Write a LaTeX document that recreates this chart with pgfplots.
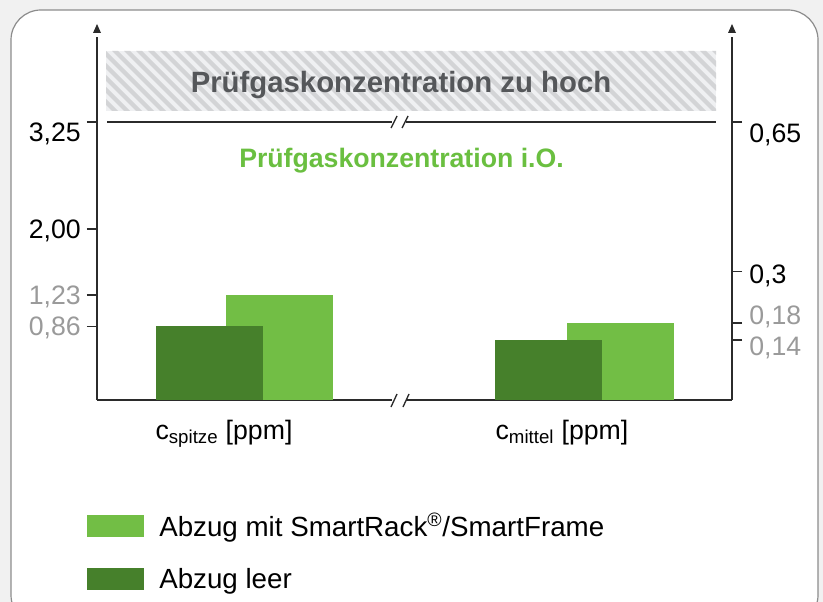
\documentclass[border=0pt]{standalone}
\usepackage{fontspec}
\setmainfont{Liberation Sans}
\usepackage{pgfplots}
\pgfplotsset{compat=1.18}
\definecolor{dkgreen}{HTML}{46802B}
\definecolor{ltgreen}{HTML}{72BE45}
\definecolor{txtgreen}{HTML}{6ABF40}
\definecolor{tickgray}{HTML}{9A9A9A}
\definecolor{headgray}{HTML}{55575A}
\definecolor{axgray}{HTML}{2B2B2B}
\definecolor{hatchbg}{HTML}{EFF0F2}
\definecolor{hatchfg}{HTML}{D3D4D6}
\definecolor{framegray}{HTML}{8C8C8C}
\definecolor{outbg}{HTML}{F1F1F1}
\newcommand{\tl}[2]{\raisebox{#1}[14pt][0pt]{#2}}
\begin{document}
\begin{tikzpicture}[x=0.75pt,y=-0.75pt]
\useasboundingbox (0,0) rectangle (823,602);
\fill[outbg] (0,0) rectangle (823,602);
\filldraw[fill=white, draw=framegray, line width=0.9pt, rounded corners=22.5pt] (11,10) rectangle (818,625);
% hatched band "zu hoch"
\fill[hatchbg] (106,51) rectangle (716,111);
\begin{scope}
\clip (106,51) rectangle (716,111);
\foreach \k in {0,...,60} {
  \fill[hatchfg] (40+\k*12,51) -- ++(6,0) -- ++(60,60) -- ++(-6,0) -- cycle;
}
\end{scope}

% left axis (c_spitze)
\begin{axis}[
  at={(72.75pt,-300pt)}, anchor=south west,
  scale only axis, width=476.25pt, height=272.25pt,
  xmin=97, xmax=732, ymin=0, ymax=4.2456,
  axis x line*=bottom, axis y line*=left,
  axis line style={draw=axgray, line width=1.1pt},
  tick align=outside, major tick length=7.5pt,
  ytick style={draw=axgray, line width=1.1pt},
  xtick style={draw=none},
  xtick={224,562},
  xticklabels={c\textsubscript{spitze} [ppm], c\textsubscript{mittel} [ppm]},
  xticklabel style={anchor=base, yshift=-22pt},
  ytick={0.86,1.23,2,3.25},
  yticklabels={{\tl{0pt}{\textcolor{tickgray}{0,86}}},{\tl{0pt}{\textcolor{tickgray}{1,23}}},{\tl{0pt}{2,00}},{\tl{-7.5pt}{3,25}}},
  yticklabel style={inner sep=0pt, xshift=-4.5pt},
  ticklabel style={font=\fontsize{20}{24}\selectfont},
  clip=false,
  legend style={at={(axis description cs:-0.01575,-0.3113)}, anchor=north west,
    draw=none, fill=none, inner sep=0pt, row sep=22pt,
    font=\fontsize{20.8}{24}\selectfont,
    nodes={inner sep=0pt},
    /tikz/every odd column/.append style={column sep=11.25pt}},
  legend cell align=left,
  legend image code/.code={\draw[#1,draw=none] (0pt,-8.25pt) rectangle (42.75pt,8.25pt);},
]
\draw[axgray, line width=1pt] (axis cs:107,3.25) -- (axis cs:716,3.25);
\node[anchor=base, font=\fontsize{22}{26}\selectfont\bfseries, text=headgray] at (axis cs:401,3.602) {Prüfgaskonzentration zu hoch};
\node[anchor=base, font=\fontsize{20}{24}\selectfont\bfseries, text=txtgreen] at (axis cs:401.5,2.725) {Prüfgaskonzentration i.O.};
\addplot[ybar, bar width=107, bar shift=0pt, fill=ltgreen, draw=none] coordinates {(279.5,1.23)};
\addplot[ybar, bar width=107, bar shift=0pt, fill=dkgreen, draw=none] coordinates {(209.5,0.86)};
\legend{Abzug mit SmartRack\textsuperscript{\textregistered}/SmartFrame, Abzug leer}
\end{axis}

% right axis (c_mittel)
\begin{axis}[
  at={(72.75pt,-300pt)}, anchor=south west,
  scale only axis, width=476.25pt, height=272.25pt,
  xmin=97, xmax=732, ymin=0, ymax=0.8487,
  axis x line=none, axis y line*=right,
  axis line style={draw=axgray, line width=1.1pt},
  tick align=outside, major tick length=7.5pt,
  ytick style={draw=axgray, line width=1.1pt},
  ytick={0.14,0.18,0.3,0.65},
  yticklabels={{\tl{-4.5pt}{\textcolor{tickgray}{0,14}}},{\tl{5.6pt}{\textcolor{tickgray}{0,18}}},{\tl{-1.5pt}{0,3}},{\tl{-8.25pt}{0,65}}},
  yticklabel style={inner sep=0pt, xshift=5.25pt},
  ticklabel style={font=\fontsize{20}{24}\selectfont},
  clip=false,
]
\addplot[ybar, bar width=107, bar shift=0pt, fill=ltgreen, draw=none] coordinates {(620.5,0.18)};
\addplot[ybar, bar width=107, bar shift=0pt, fill=dkgreen, draw=none] coordinates {(548.5,0.14)};
\end{axis}

% axis arrows
\fill[axgray] (97,24) -- (93,33) -- (101,33) -- cycle;
\fill[axgray] (732,24) -- (728,33) -- (736,33) -- cycle;
% breaks
\fill[white] (392,116) rectangle (406,128);
\fill[white] (392,394) rectangle (406,406);
\draw[axgray, line width=1pt] (391,128) -- (397,116) (402,128) -- (408,116);
\draw[axgray, line width=1pt] (391,407) -- (397,394) (403,407) -- (409,394);
\end{tikzpicture}
\end{document}
